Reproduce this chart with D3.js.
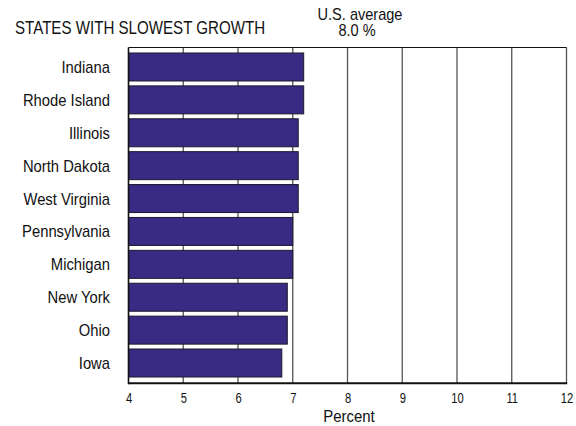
<!DOCTYPE html>
<html><head><meta charset="utf-8">
<script src="https://cdn.jsdelivr.net/npm/d3@7"></script>
<style>
body{margin:0;background:#fff;}
text{font-family:"Liberation Sans",Arial,sans-serif;fill:#111;}
</style></head>
<body><svg id="c" width="576" height="426"></svg>
<script>
const states = ["Indiana","Rhode Island","Illinois","North Dakota","West Virginia","Pennsylvania","Michigan","New York","Ohio","Iowa"];
const growth = [7.2,7.2,7.1,7.1,7.1,7.0,7.0,6.9,6.9,6.8];
const ticks = [4,5,6,7,8,9,10,11,12];
const title = "STATES WITH SLOWEST GROWTH";
const avgLabel = ["U.S. average","8.0 %"];
const xTitle = "Percent";

(function(){
const svg = d3.select("#c");
const L = 128.5, R = 566.5, T = 47.5, B = 383.3;
const x = d3.scaleLinear().domain([4,12]).range([L,R]);
const y = d3.scaleBand().domain(states).range([49.7,380.3]).paddingInner(0.149).paddingOuter(0.1);

function ctext(px, py, str, size, sx, anchor){
  const g = svg.append("g").attr("transform",`translate(${px},${py}) scale(${sx},1)`);
  g.append("text").attr("x",0).attr("y",0).attr("text-anchor",anchor||"start")
   .style("font-size",size+"px").text(str);
  return g;
}

svg.append("g").selectAll("line").data(ticks.slice(1)).join("line")
  .attr("x1",d=>x(d)).attr("x2",d=>x(d)).attr("y1",T).attr("y2",B)
  .attr("stroke","#555").attr("stroke-width",1.3);
svg.append("line").attr("x1",L).attr("x2",R).attr("y1",T).attr("y2",T).attr("stroke","#111").attr("stroke-width",1.2);

svg.append("g").selectAll("rect").data(growth).join("rect")
  .attr("x",x(4)).attr("y",(d,i)=>y(states[i]))
  .attr("width",d=>x(d)-x(4)).attr("height",y.bandwidth())
  .attr("fill","#392a84").attr("stroke","#1a1a2a").attr("stroke-width",1);

svg.append("line").attr("x1",L).attr("x2",L).attr("y1",T).attr("y2",B+1).attr("stroke","#111").attr("stroke-width",1.6);
svg.append("line").attr("x1",L).attr("x2",R+0.7).attr("y1",B).attr("y2",B).attr("stroke","#111").attr("stroke-width",2);

const xa = d3.axisBottom(x).tickValues(ticks).tickSize(0).tickPadding(0);
const g = svg.append("g").attr("transform",`translate(0,${B})`).call(xa);
g.select(".domain").remove();
g.selectAll(".tick text").attr("y",19.6).attr("dy",null)
  .style("font-family",'"Liberation Sans",Arial,sans-serif').style("font-size","14px").attr("fill","#111")
  .attr("transform","scale(0.8,1)");

states.forEach(s=>{
  ctext(110, y(s)+y.bandwidth()/2+6, s, 17, 0.87, "end");
});

ctext(15, 33.5, title, 18, 0.84, "start");
ctext(360, 19.5, avgLabel[0], 16, 0.91, "middle");
ctext(357, 36, avgLabel[1], 16, 0.91, "middle");
ctext(349, 422, xTitle, 17, 0.88, "middle");
})();
</script></body></html>
